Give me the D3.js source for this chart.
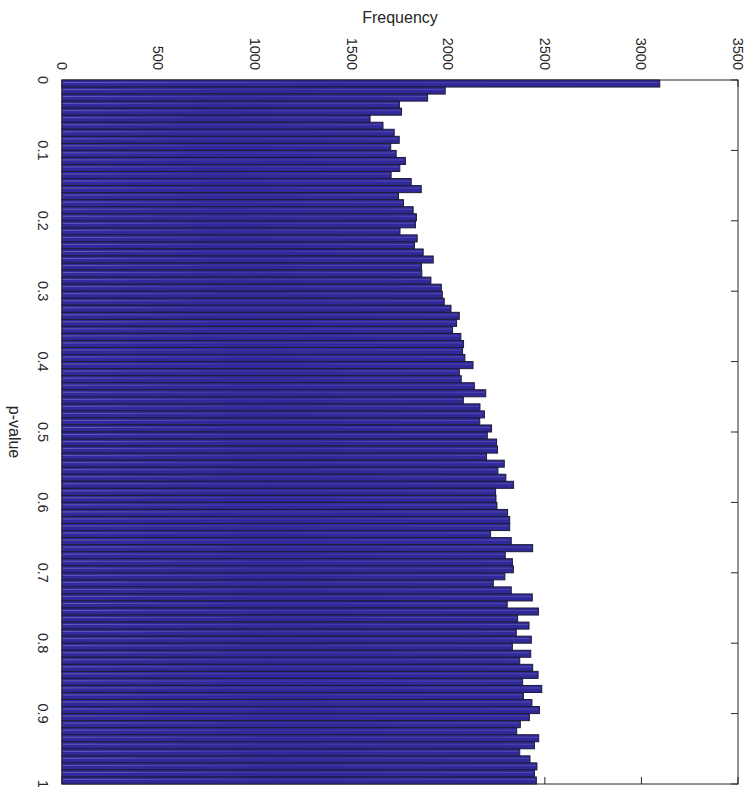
<!DOCTYPE html>
<html>
<head>
<meta charset="utf-8">
<script src="https://cdn.jsdelivr.net/npm/d3@7/dist/d3.min.js"></script>
<style>
  html, body { margin: 0; padding: 0; background: #fff; }
  svg { display: block; font-family: "Liberation Sans", Arial, Helvetica, sans-serif; }
</style>
</head>
<body>
<div id="chart"></div>
<script>
// Histogram of p-values: 100 bins of width 0.01, drawn with the value axis vertical.
const binWidth = 0.01;
const counts = [
  3095, 1984, 1893, 1747, 1758, 1595, 1662, 1720, 1746, 1702,
  1730, 1778, 1749, 1704, 1808, 1860, 1742, 1768, 1818, 1835,
  1830, 1750, 1839, 1825, 1870, 1922, 1861, 1863, 1910, 1964,
  1969, 1979, 2014, 2057, 2043, 2022, 2065, 2079, 2074, 2086,
  2128, 2057, 2067, 2135, 2194, 2078, 2164, 2187, 2163, 2224,
  2202, 2250, 2255, 2198, 2290, 2257, 2298, 2338, 2245, 2247,
  2252, 2307, 2318, 2318, 2219, 2326, 2437, 2295, 2332, 2337,
  2293, 2233, 2326, 2435, 2305, 2467, 2359, 2418, 2352, 2430,
  2332, 2427, 2370, 2437, 2465, 2385, 2484, 2389, 2433, 2472,
  2420, 2373, 2354, 2468, 2446, 2370, 2423, 2459, 2446, 2456
];
const pTicks = [0, 0.1, 0.2, 0.3, 0.4, 0.5, 0.6, 0.7, 0.8, 0.9, 1];
const pTickLabels = ["0", "0.1", "0.2", "0.3", "0.4", "0.5", "0.6", "0.7", "0.8", "0.9", "1"];
const freqTicks = [0, 500, 1000, 1500, 2000, 2500, 3000, 3500];
const freqTickLabels = ["0", "500", "1000", "1500", "2000", "2500", "3000", "3500"];
const freqTitle = "Frequency";
const pTitle = "p-value";

const W = 750, H = 787;
const box = { left: 62, right: 738, top: 80, bottom: 784 };

const x = d3.scaleLinear().domain([0, 3500]).range([box.left, box.right]);
const y = d3.scaleLinear().domain([0, 1]).range([box.top, box.bottom]);

const bins = counts.map((c, i) => ({ x0: i * binWidth, x1: (i + 1) * binWidth, count: c }));

const svg = d3.select("#chart").append("svg")
  .attr("width", W).attr("height", H);

const defs = svg.append("defs");
const sheen = defs.append("linearGradient").attr("id", "sheen")
  .attr("x1", 0).attr("x2", 1).attr("y1", 0).attr("y2", 0);
sheen.append("stop").attr("offset", "0%").attr("stop-color", "#8a88d0").attr("stop-opacity", 0.55);
sheen.append("stop").attr("offset", "45%").attr("stop-color", "#8a88d0").attr("stop-opacity", 0.15);
sheen.append("stop").attr("offset", "100%").attr("stop-color", "#8a88d0").attr("stop-opacity", 0.35);

const ink = "#262626";

// Axes box
svg.append("rect")
  .attr("x", box.left).attr("y", box.top)
  .attr("width", box.right - box.left).attr("height", box.bottom - box.top)
  .attr("fill", "none").attr("stroke", ink).attr("stroke-width", 1);

// Inward ticks on the frequency axis (top and bottom edges) and the right edge
const tickLen = 7;
const tickG = svg.append("g").attr("stroke", ink).attr("stroke-width", 1);
freqTicks.forEach(v => {
  tickG.append("line").attr("x1", x(v)).attr("x2", x(v))
    .attr("y1", box.top).attr("y2", box.top + tickLen);
  tickG.append("line").attr("x1", x(v)).attr("x2", x(v))
    .attr("y1", box.bottom).attr("y2", box.bottom - tickLen);
});
pTicks.forEach(v => {
  tickG.append("line").attr("x1", box.right).attr("x2", box.right - tickLen)
    .attr("y1", y(v)).attr("y2", y(v));
});

// Bars
const barG = svg.append("g");
barG.selectAll("rect.bar").data(bins).join("rect")
  .attr("class", "bar")
  .attr("x", x(0))
  .attr("y", d => y(d.x0))
  .attr("width", d => x(d.count) - x(0))
  .attr("height", d => y(d.x1) - y(d.x0))
  .attr("fill", "#31289a")
  .attr("stroke", "#1d1d35")
  .attr("stroke-width", 1);

// Light streak inside each bar
barG.selectAll("rect.streak").data(bins).join("rect")
  .attr("class", "streak")
  .attr("x", x(0) + 1)
  .attr("y", d => y(d.x0) + 2)
  .attr("width", d => Math.max(0, x(d.count) - x(0) - 2))
  .attr("height", 1)
  .attr("fill", "url(#sheen)");

// Frequency tick labels (rotated, above the box)
svg.append("g").selectAll("text").data(freqTicks).join("text")
  .attr("transform", d => `translate(${x(d)},${box.top - 10}) rotate(90)`)
  .attr("text-anchor", "end")
  .attr("dy", "0.35em")
  .attr("font-size", 14.5)
  .attr("fill", ink)
  .text((d, i) => freqTickLabels[i]);

// p-value tick labels (rotated, left of the box)
svg.append("g").selectAll("text").data(pTicks).join("text")
  .attr("transform", d => `translate(${box.left - 19},${y(d)}) rotate(90)`)
  .attr("text-anchor", "middle")
  .attr("dy", "0.35em")
  .attr("font-size", 14.5)
  .attr("fill", ink)
  .text((d, i) => pTickLabels[i]);

// Axis titles
svg.append("text")
  .attr("x", (box.left + box.right) / 2).attr("y", 23)
  .attr("text-anchor", "middle")
  .attr("font-size", 16)
  .attr("fill", ink)
  .text(freqTitle);

svg.append("text")
  .attr("transform", `translate(15,${(box.top + box.bottom) / 2}) rotate(90)`)
  .attr("text-anchor", "middle")
  .attr("dy", "0.35em")
  .attr("font-size", 16)
  .attr("fill", ink)
  .text(pTitle);
</script>
</body>
</html>
